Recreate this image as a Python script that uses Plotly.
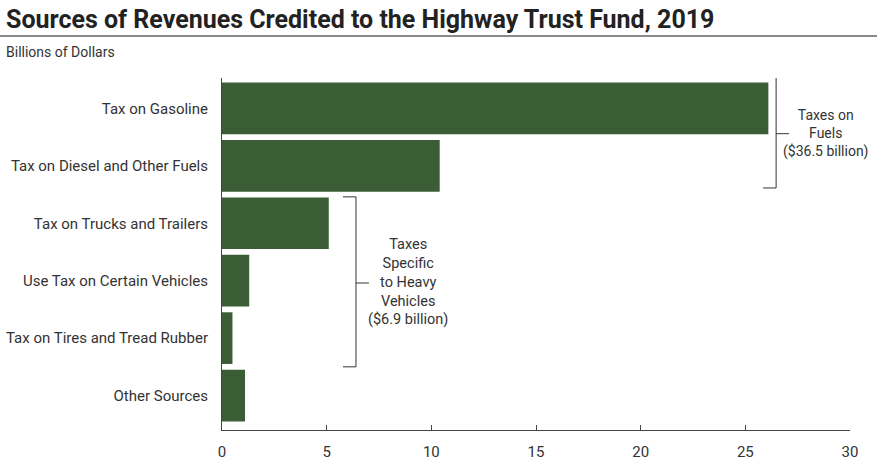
import plotly.graph_objects as go

# Highway Trust Fund revenues, 2019 (billions of dollars)
sources = [
    "Tax on Gasoline",
    "Tax on Diesel and Other Fuels",
    "Tax on Trucks and Trailers",
    "Use Tax on Certain Vehicles",
    "Tax on Tires and Tread Rubber",
    "Other Sources",
]
revenues = [26.1, 10.4, 5.1, 1.3, 0.5, 1.1]

fuel_note = "Taxes on<br>Fuels<br>($36.5 billion)"
heavy_note = "Taxes<br>Specific<br>to Heavy<br>Vehicles<br>($6.9 billion)"

GREEN = "#3b5d36"
TXT = "#333333"
FONT = "Roboto, Arial"

fig = go.Figure(go.Bar(
    x=revenues,
    y=list(range(len(sources))),
    orientation="h",
    marker=dict(color=GREEN, line=dict(width=0)),
    width=0.9,
    hoverinfo="x",
))

fig.update_layout(
    width=877, height=465,
    margin=dict(l=222, r=27, t=78, b=35),
    plot_bgcolor="white", paper_bgcolor="white",
    showlegend=False,
    font=dict(family=FONT, size=15, color=TXT),
)

fig.update_xaxes(
    range=[0, 30], tickvals=[0, 5, 10, 15, 20, 25, 30],
    showgrid=False, zeroline=False, automargin=False,
    showline=True, linecolor="#444", linewidth=1,
    ticks="inside", ticklen=5, tickcolor="#444",
    ticklabelstandoff=8,
    tickfont=dict(size=15, color=TXT),
)
fig.update_yaxes(
    range=[5.6, -0.53],
    tickvals=list(range(len(sources))), ticktext=sources,
    showgrid=False, zeroline=False, automargin=False,
    showline=True, linecolor="#444", linewidth=1,
    ticks="", ticklabelstandoff=10,
    tickfont=dict(size=15, color=TXT),
)

# title, subtitle and rule
fig.add_annotation(text="<b>Sources of Revenues Credited to the Highway Trust Fund, 2019</b>",
                   xref="paper", yref="paper", x=-218 / 628, y=1 + 58 / 352,
                   xanchor="left", yanchor="middle", showarrow=False,
                   font=dict(size=25, color="#222", family=FONT))
fig.add_annotation(text="Billions of Dollars",
                   xref="paper", yref="paper", x=-218 / 628, y=1 + 26 / 352,
                   xanchor="left", yanchor="middle", showarrow=False,
                   font=dict(size=14, color=TXT))
fig.add_shape(type="line", xref="paper", yref="paper",
              x0=-222 / 628, x1=1 + 27 / 628, y0=1 + 42 / 352, y1=1 + 42 / 352,
              line=dict(color="#8a8a8a", width=2))

# brackets
def bracket(x, y0, y1, ym):
    kw = dict(type="line", xref="x", yref="y", line=dict(color="#333", width=1))
    fig.add_shape(x0=x, x1=x, y0=y0, y1=y1, **kw)
    fig.add_shape(x0=x - 0.62, x1=x, y0=y0, y1=y0, **kw)
    fig.add_shape(x0=x - 0.62, x1=x, y0=y1, y1=y1, **kw)
    fig.add_shape(x0=x, x1=x + 0.62, y0=ym, y1=ym, **kw)

bracket(26.47, -0.55, 1.385, 0.44)
bracket(6.4, 1.54, 4.5, 3.04)

fig.add_annotation(text=fuel_note, x=28.86, y=0.44, xref="x", yref="y",
                   showarrow=False, align="center",
                   font=dict(size=14, color=TXT))
fig.add_annotation(text=heavy_note, x=8.89, y=3.02, xref="x", yref="y",
                   showarrow=False, align="center",
                   font=dict(size=14.5, color=TXT))

fig.write_html("out.html", config={"displayModeBar": False},
               post_script="document.body.style.margin='0';")
